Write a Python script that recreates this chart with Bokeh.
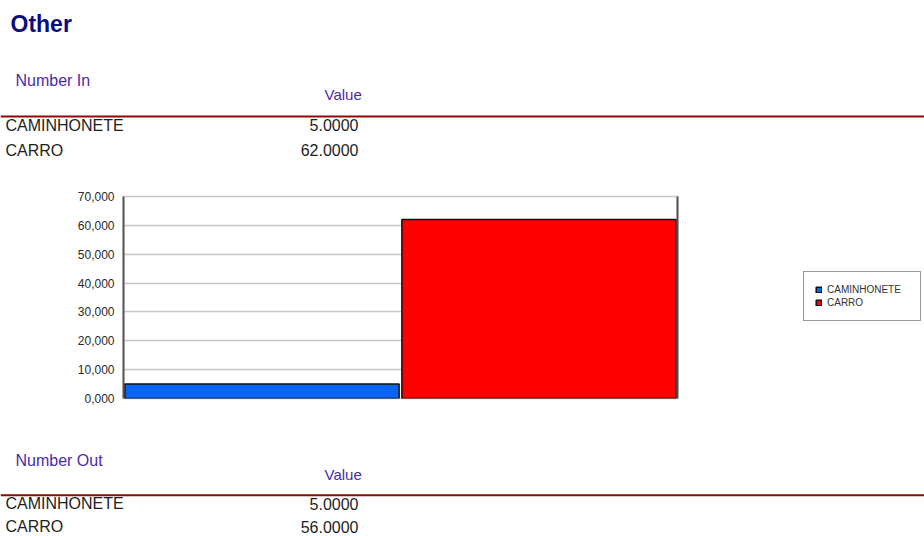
from bokeh.plotting import figure
from bokeh.layouts import column, row
from bokeh.models import (Range1d, FactorRange, ColumnDataSource, LinearAxis,
                          CustomJSTickFormatter, FixedTicker)
from bokeh.core.properties import value
from bokeh.embed import file_html
from bokeh.resources import INLINE

# ---------------- data ----------------
categories = ["CAMINHONETE", "CARRO"]
number_in = [5, 62]
number_out = [5, 56]
bar_colors = ["#0A64F5", "#FF0000"]
y_ticks = [0, 10, 20, 30, 40, 50, 60, 70]
title_text = "Other"
section_in = "Number In"
section_out = "Number Out"
value_header = "Value"

W = 924
FONT = value("Liberation Sans")
TITLE_COLOR = "#0C0C7E"
HEAD_COLOR = "#4A2CA6"
ROW_COLOR = "#1E1E1E"
RULE_COLOR = "#8B0A0A"


def blank(height):
    p = figure(width=W, height=height, x_range=Range1d(0, W),
               y_range=Range1d(height, 0), output_backend="svg",
               toolbar_location=None, min_border=0,
               x_axis_location=None, y_axis_location=None)
    p.grid.visible = False
    p.outline_line_color = None
    p.background_fill_color = "white"
    p.border_fill_color = "white"
    return p


def table(p, section, sec_y, val_y, rule_y, row_ys, values):
    p.text(x=[15], y=[sec_y], text=[section], text_font=FONT,
           text_font_size="16px", text_color=HEAD_COLOR,
           text_baseline="alphabetic", text_align="left")
    p.text(x=[324], y=[val_y], text=[value_header], text_font=FONT,
           text_font_size="15px", text_color=HEAD_COLOR,
           text_baseline="alphabetic", text_align="left")
    p.text(x=[5] * len(categories), y=row_ys, text=categories,
           text_font=FONT, text_font_size="16px", text_color=ROW_COLOR,
           text_baseline="alphabetic", text_align="left")
    p.text(x=[358] * len(values), y=row_ys,
           text=["{:.4f}".format(v) for v in values],
           text_font=FONT, text_font_size="16px", text_color=ROW_COLOR,
           text_baseline="alphabetic", text_align="right")
    p.segment(x0=[0], x1=[W], y0=[rule_y], y1=[rule_y],
              line_color=RULE_COLOR, line_width=2)


# ---------------- header ----------------
H1 = 170
header = blank(H1)
header.text(x=[10], y=[23.5], text=[title_text], text_font=FONT,
            text_font_size="23px", text_font_style="bold",
            text_color=TITLE_COLOR, text_baseline="alphabetic")
table(header, section_in, 79.5, 94.4, 116, [124.5, 149.5], number_in)

# ---------------- chart ----------------
H2 = 250
LW = 134                     # width of the legend strip at the right
CW = W - LW
src = ColumnDataSource(dict(x=categories, top=number_in, color=bar_colors))

chart = figure(width=CW, height=H2,
               x_range=FactorRange(factors=categories, range_padding=0),
               y_range=Range1d(0, 70), output_backend="svg",
               toolbar_location=None, x_axis_location=None,
               min_border_left=123, min_border_right=CW - 677,
               min_border_top=26, min_border_bottom=22)
chart.background_fill_color = "white"
chart.border_fill_color = "white"
chart.outline_line_color = "#C8C8C8"
chart.outline_line_width = 1.5

chart.vbar(x="x", top="top", width=0.99, bottom=0, source=src,
           fill_color="color", line_color="#111111", line_width=1.5)

ya = chart.yaxis[0]
ya.ticker = FixedTicker(ticks=y_ticks)
ya.formatter = CustomJSTickFormatter(
    code="return tick.toFixed(3).replace('.', ',');")
ya.major_tick_out = 0
ya.major_tick_in = 0
ya.minor_tick_out = 0
ya.minor_tick_in = 0
ya.axis_line_color = "#555555"
ya.axis_line_width = 2
ya.major_label_text_font = "Liberation Sans"
ya.major_label_text_font_size = "12px"
ya.major_label_text_color = "#2A2A2A"
ya.major_label_standoff = 9

chart.xgrid.visible = False
chart.ygrid.ticker = FixedTicker(ticks=y_ticks)
chart.ygrid.grid_line_color = "#C8C8C8"
chart.ygrid.grid_line_width = 1.5

ra = LinearAxis(ticker=FixedTicker(ticks=[]), axis_line_color="#505050",
                axis_line_width=2, major_tick_out=0, major_tick_in=0,
                minor_tick_out=0, minor_tick_in=0)
chart.add_layout(ra, "right")

# legend strip: same series on a range that holds none of its factors,
# so only the legend is drawn
leg = figure(width=LW, height=H2,
             x_range=FactorRange(factors=["legend"]),
             y_range=Range1d(1000, 2000), output_backend="svg",
             toolbar_location=None, x_axis_location=None,
             y_axis_location=None, min_border_left=0, min_border_right=0,
             min_border_top=26, min_border_bottom=22)
leg.grid.visible = False
leg.outline_line_color = None
leg.background_fill_color = "white"
leg.border_fill_color = "white"
leg.vbar(x="x", top="top", width=0.99, bottom=0, source=src,
         fill_color="color", line_color="#111111", line_width=1.5,
         legend_field="x")

lg = leg.legend[0]
lg.location = (13, 77)
lg.margin = 0
lg.padding = 11
lg.spacing = 0
lg.glyph_width = 7
lg.glyph_height = 7
lg.label_height = 13
lg.label_width = 82
lg.label_standoff = 5
lg.label_text_font = "Liberation Sans"
lg.label_text_font_size = "10px"
lg.label_text_color = "#333333"
lg.border_line_color = "#333333"
lg.border_line_width = 1.5
lg.background_fill_color = "white"
lg.background_fill_alpha = 1.0

# ---------------- footer ----------------
H3 = 536 - H1 - H2
footer = blank(H3)
off = H1 + H2
table(footer, section_out, 459.5 - off, 473.9 - off, 494.7 - off,
      [503 - off, 526 - off], number_out)

layout = column(column(header), row(chart, column(leg), spacing=0),
                column(footer), spacing=0)
open("out.html", "w").write(file_html(layout, INLINE))
